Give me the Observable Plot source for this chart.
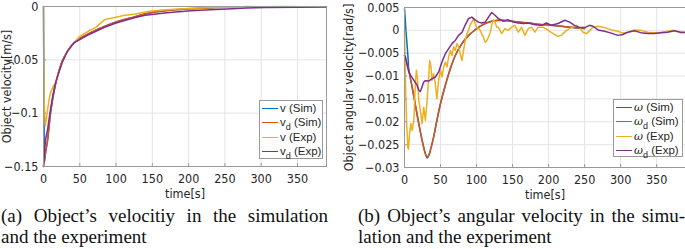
<!DOCTYPE html>
<html><head><meta charset="utf-8">
<script src="https://cdn.jsdelivr.net/npm/d3@7"></script>
<script src="https://cdn.jsdelivr.net/npm/@observablehq/plot@0.6"></script>
<style>
body{margin:0;width:685px;height:249px;overflow:hidden;background:#fff;position:relative;font-family:"Liberation Sans",Arial,sans-serif;}
#a{position:absolute;left:0;top:0;}
#b{position:absolute;left:340px;top:0;}
.legend{position:absolute;background:#fff;border:1px solid #9a9a9a;font-size:11.5px;color:#262626;box-sizing:border-box;}
.row{position:absolute;left:2px;height:14px;display:flex;align-items:center;white-space:nowrap;}
.sw{display:inline-block;width:16px;height:0;border-top:1.6px solid;margin-right:2px;}
.row sub{font-size:9px;vertical-align:-4px;line-height:0;}
.cap{position:absolute;top:205px;width:327px;font-family:"Liberation Serif","Times New Roman",serif;font-size:19px;line-height:21px;color:#111;white-space:nowrap;}
.j{text-align:justify;text-align-last:justify;}
</style></head>
<body>
<div id="a"></div><div id="b"></div>
<div class="cap" style="left:1px"><div class="j">(a) Object’s velocitiy in the simulation</div><div>and the experiment</div></div>
<div class="cap" style="left:358px"><div class="j">(b) Object’s angular velocity in the simu-</div><div>lation and the experiment</div></div>
<script>
// ---- data ----
const xTicks = [0, 50, 100, 150, 200, 250, 300, 350];
const vTicks = [0, -0.05, -0.1, -0.15];
const wTicks = [0.005, 0, -0.005, -0.01, -0.015, -0.02, -0.025, -0.03];
const colors = ["#0072BD", "#D95319", "#EDB120", "#7E2F8E"];

// (a) velocity [m/s]
const vSim = [[0,0],[0.7,-0.08],[1.6,-0.145],[3,-0.136],[5.5,-0.126],[10,-0.098],[14.7,-0.079],[19.4,-0.065],[26,-0.051],[33,-0.042],[42,-0.034],[50,-0.030],[65,-0.0245],[84,-0.0187],[100,-0.0146],[125,-0.0098],[144,-0.0064],[170,-0.0038],[200,-0.0022],[225,-0.0013],[254,-0.0006]];
const vdSim = [[0,-0.15],[2,-0.14],[5.5,-0.126],[10,-0.098],[14.7,-0.079],[19.4,-0.065],[26,-0.051],[33,-0.042],[42,-0.034],[50,-0.030],[65,-0.0245],[84,-0.0187],[100,-0.0146],[125,-0.0098],[144,-0.0064],[170,-0.0038],[200,-0.0022],[225,-0.0013],[254,-0.0006]];
const vExp = [[0,0],[0.3,-0.05],[1,-0.09],[2.5,-0.112],[4,-0.105],[6,-0.095],[8,-0.086],[10,-0.08],[12,-0.077],[14,-0.074],[16,-0.073],[18,-0.068],[22,-0.06],[26,-0.052],[30,-0.046],[35,-0.04],[42,-0.034],[50,-0.028],[55,-0.026],[62,-0.023],[68,-0.021],[72,-0.0196],[78,-0.016],[84,-0.0124],[90,-0.0115],[100,-0.0100],[110,-0.0085],[125,-0.0072],[144,-0.0047],[160,-0.0035],[180,-0.0025],[200,-0.0018],[230,-0.0010],[260,-0.0006],[280,-0.0001],[300,-0.0002],[330,0],[360,-0.0002],[390,-0.0003]];
const vdExp = [[0,-0.15],[1.5,-0.135],[3,-0.124],[5.5,-0.116],[8,-0.104],[10,-0.095],[13,-0.083],[16,-0.073],[20,-0.064],[26,-0.052],[33,-0.042],[42,-0.034],[50,-0.031],[65,-0.0255],[84,-0.0195],[100,-0.0155],[125,-0.0105],[140,-0.0082],[170,-0.0058],[203,-0.0040],[230,-0.0030],[253,-0.0023],[280,-0.0015],[304,-0.0010],[350,-0.0006],[390,-0.0004]];

// (b) angular velocity [rad/s]
const wSim = [[0,0.0047],[0.8,0.003],[1.6,0.0008],[2.3,-0.0006],[3,-0.002],[4,-0.004],[5,-0.0062],[6,-0.0087],[10.6,-0.0124],[15.2,-0.0164],[19.8,-0.0204],[24.4,-0.024],[29,-0.027],[31.5,-0.0279],[34,-0.0273],[36,-0.0262],[40.5,-0.0233],[45,-0.0197],[50,-0.016],[56.7,-0.012],[63.6,-0.0084],[70.5,-0.0055],[79.7,-0.0029],[89,-0.0011],[98,0.0001],[107,0.0011],[121,0.002],[135,0.0022],[149,0.002],[172,0.0016],[195,0.0012],[218,0.0009],[241,0.0005],[250,0.0004]];
const wdSim = [[0,-0.0055],[6,-0.0087],[10.6,-0.0124],[15.2,-0.0164],[19.8,-0.0204],[24.4,-0.024],[29,-0.027],[31.5,-0.0277],[34,-0.0272],[36,-0.0262],[40.5,-0.0233],[45,-0.0197],[50,-0.016],[56.7,-0.012],[63.6,-0.0084],[70.5,-0.0055],[79.7,-0.0029],[89,-0.0011],[98,0.0001],[107,0.0011],[121,0.002],[135,0.0022],[149,0.002],[172,0.0016],[195,0.0012],[218,0.0009],[241,0.0005],[250,0.0004]];
const wExp = [[0,0],[0.5,-0.004],[1.4,-0.0117],[2.8,-0.0197],[4.6,-0.0255],[5.5,-0.026],[7,-0.0226],[8.8,-0.0204],[10.6,-0.0219],[13,-0.0197],[14.3,-0.0146],[15.2,-0.0113],[16.6,-0.0087],[18,-0.0106],[19.8,-0.0153],[22,-0.0175],[24.4,-0.0204],[26.7,-0.0168],[29,-0.0197],[31.3,-0.0153],[33.6,-0.0102],[35,-0.0066],[36.8,-0.008],[38.2,-0.0109],[40.5,-0.0095],[42.8,-0.0117],[45,-0.015],[47.4,-0.0109],[50,-0.0087],[52,-0.0102],[54.4,-0.008],[56.7,-0.0069],[59,-0.008],[61.3,-0.0058],[63.6,-0.0044],[66,-0.0055],[68.2,-0.0036],[70.5,-0.0044],[72.8,-0.0029],[75,-0.0036],[77.4,-0.0051],[79.7,-0.0066],[82,-0.0044],[84.3,-0.0022],[86.6,-0.0007],[89,0],[91,0.0011],[93.5,0.0018],[95.8,0.0026],[98,0.0015],[100,0.0007],[102.7,0.0004],[105,0],[107,-0.0007],[109.6,-0.0015],[112,-0.0026],[114,-0.0023],[116.5,-0.0015],[119,-0.0004],[121,0.0011],[123.4,0.0023],[125.7,0.0018],[128,0.0007],[130,0.0007],[134.9,-0.0007],[139.5,0.0004],[144,0],[148.7,0.0007],[153,0.0011],[158,-0.0004],[162.5,0.0007],[167,-0.0011],[171.8,0.0004],[176.4,0.0007],[181,-0.0004],[185.6,0.0007],[192.5,0.0007],[199.4,0],[206.3,-0.0007],[213,-0.0013],[217.8,-0.0011],[224.7,0],[231.6,0.0006],[238.5,0.0011],[243,0.0006],[247.8,-0.0004],[252.4,-0.0007],[257,-0.0001],[261.6,0.0007],[268.5,0.0009],[277.7,0.0006],[287,0.0001],[296,-0.0002],[303,-0.0006],[310,-0.0004],[319,0.0001],[328,0],[337.6,-0.0004],[346.8,-0.0005],[356,-0.0004],[365,-0.0002],[374,0],[383.6,-0.0006],[390,-0.0005]];
const wdExp = [[0,-0.0055],[1.4,-0.0058],[3.7,-0.0077],[6,-0.0091],[8.3,-0.0098],[12.9,-0.0109],[17.5,-0.012],[19.8,-0.0131],[22,-0.0134],[24,-0.0125],[26.7,-0.0113],[29,-0.011],[33.6,-0.0111],[38,-0.0106],[42.8,-0.0102],[47.4,-0.0091],[52,-0.0069],[56.7,-0.0051],[61.3,-0.004],[66,-0.0029],[70.5,-0.0022],[75,-0.0011],[80,-0.0004],[84,0.0011],[89,0.0026],[93.5,0.0029],[98,0.0023],[102.7,0.0018],[107,0.0016],[112,0.0018],[116.5,0.0029],[121,0.0039],[125.7,0.0033],[130,0.0026],[137,0.002],[144,0.0023],[151,0.0018],[158,0.0016],[165,0.0015],[172,0.0016],[181,0.0012],[190,0.0011],[197,0.0016],[204,0.0011],[213,0.0015],[222.5,0.0022],[229.3,0.0018],[236,0.0011],[243,0.0006],[250,0.0006],[257,0.0011],[261.6,0.0009],[268.5,0.0001],[277.7,-0.0002],[287,-0.0006],[296,-0.0011],[303,-0.0009],[310,-0.0004],[319,-0.0001],[328,-0.0005],[337.6,-0.0007],[346.8,-0.0007],[356,-0.0005],[365,-0.0004],[374.4,-0.0001],[383.6,-0.0004],[390,-0.0004]];

// ---- chart ----
const fmt = d => d === 0 ? "0" : String(d).replace("-", "\u2212");
const font = '"Liberation Sans Narrow","DejaVu Sans Condensed","Liberation Sans",Arial,sans-serif';

function panel({width, ml, mr, mt, mb, ydomain, yticks, ylabel, yLabelOffset, series}) {
  const lines = series.map(([data, color, smooth]) =>
    Plot.line(data, {x: d => d[0], y: d => d[1], stroke: color, strokeWidth: 1.5, curve: smooth ? "catmull-rom" : "linear"}));
  return Plot.plot({
    width, height: 198,
    marginLeft: ml, marginRight: mr, marginTop: mt, marginBottom: mb,
    style: {fontFamily: font, fontSize: "12px", color: "#262626", background: "#fff", overflow: "visible"},
    x: {domain: [0, 390]},
    y: {domain: ydomain},
    marks: [
      Plot.gridX(xTicks, {stroke: "#e4e4e4", strokeOpacity: 1}),
      Plot.gridY(yticks, {stroke: "#e4e4e4", strokeOpacity: 1}),
      ...lines,
      Plot.frame({stroke: "#9a9a9a"}),
      Plot.axisX(xTicks, {tickSize: -3, tickPadding: 11, stroke: "#9a9a9a", fill: "#262626", label: "time[s]", labelAnchor: "center", labelArrow: "none", labelOffset: 31, fontSize: 12.5}),
      Plot.axisY(yticks, {tickSize: -3, tickPadding: 8, stroke: "#9a9a9a", fill: "#262626", tickFormat: fmt, label: ylabel, labelAnchor: "center", labelArrow: "none", labelOffset: yLabelOffset, fontSize: 12.5})
    ]
  });
}

document.getElementById("a").append(panel({
  width: 340, ml: 43, mr: 14, mt: 6, mb: 32,
  ydomain: [-0.15, 0], yticks: vTicks, ylabel: "Object velocity[m/s]", yLabelOffset: 41,
  series: [[vSim, colors[0], true], [vdSim, colors[1], true], [vExp, colors[2], false], [vdExp, colors[3], false]]
}));
document.getElementById("b").append(panel({
  width: 345, ml: 64, mr: 0, mt: 7, mb: 31,
  ydomain: [-0.03, 0.005], yticks: wTicks, ylabel: "Object angular velocity[rad/s]", yLabelOffset: 60,
  series: [[wSim, colors[0], true], [wdSim, colors[1], true], [wExp, colors[2], false], [wdExp, colors[3], false]]
}));

// ---- legends ----
const vLabels = ["v (Sim)", "v<sub>d</sub> (Sim)", "v (Exp)", "v<sub>d</sub> (Exp)"];
const om = '<i style="font-family:\'DejaVu Serif\',serif;font-size:11px">ω</i>';
const wLabels = [om + " (Sim)", om + "<sub>d</sub> (Sim)", om + " (Exp)", om + "<sub>d</sub> (Exp)"];
function legend(left, top, w, h, labels) {
  const box = document.createElement("div");
  box.className = "legend";
  Object.assign(box.style, {left: left + "px", top: top + "px", width: w + "px", height: h + "px"});
  const rowTops = [0, 14, 29, 43];
  labels.forEach((lab, i) => {
    const r = document.createElement("div");
    r.className = "row";
    r.style.top = rowTops[i] + "px";
    r.innerHTML = `<span class="sw" style="border-color:${colors[i]}"></span><span>${lab}</span>`;
    box.append(r);
  });
  document.body.append(box);
}
legend(259, 100, 64, 59, vLabels);
legend(613, 99, 70, 58, wLabels);
</script>
</body></html>
